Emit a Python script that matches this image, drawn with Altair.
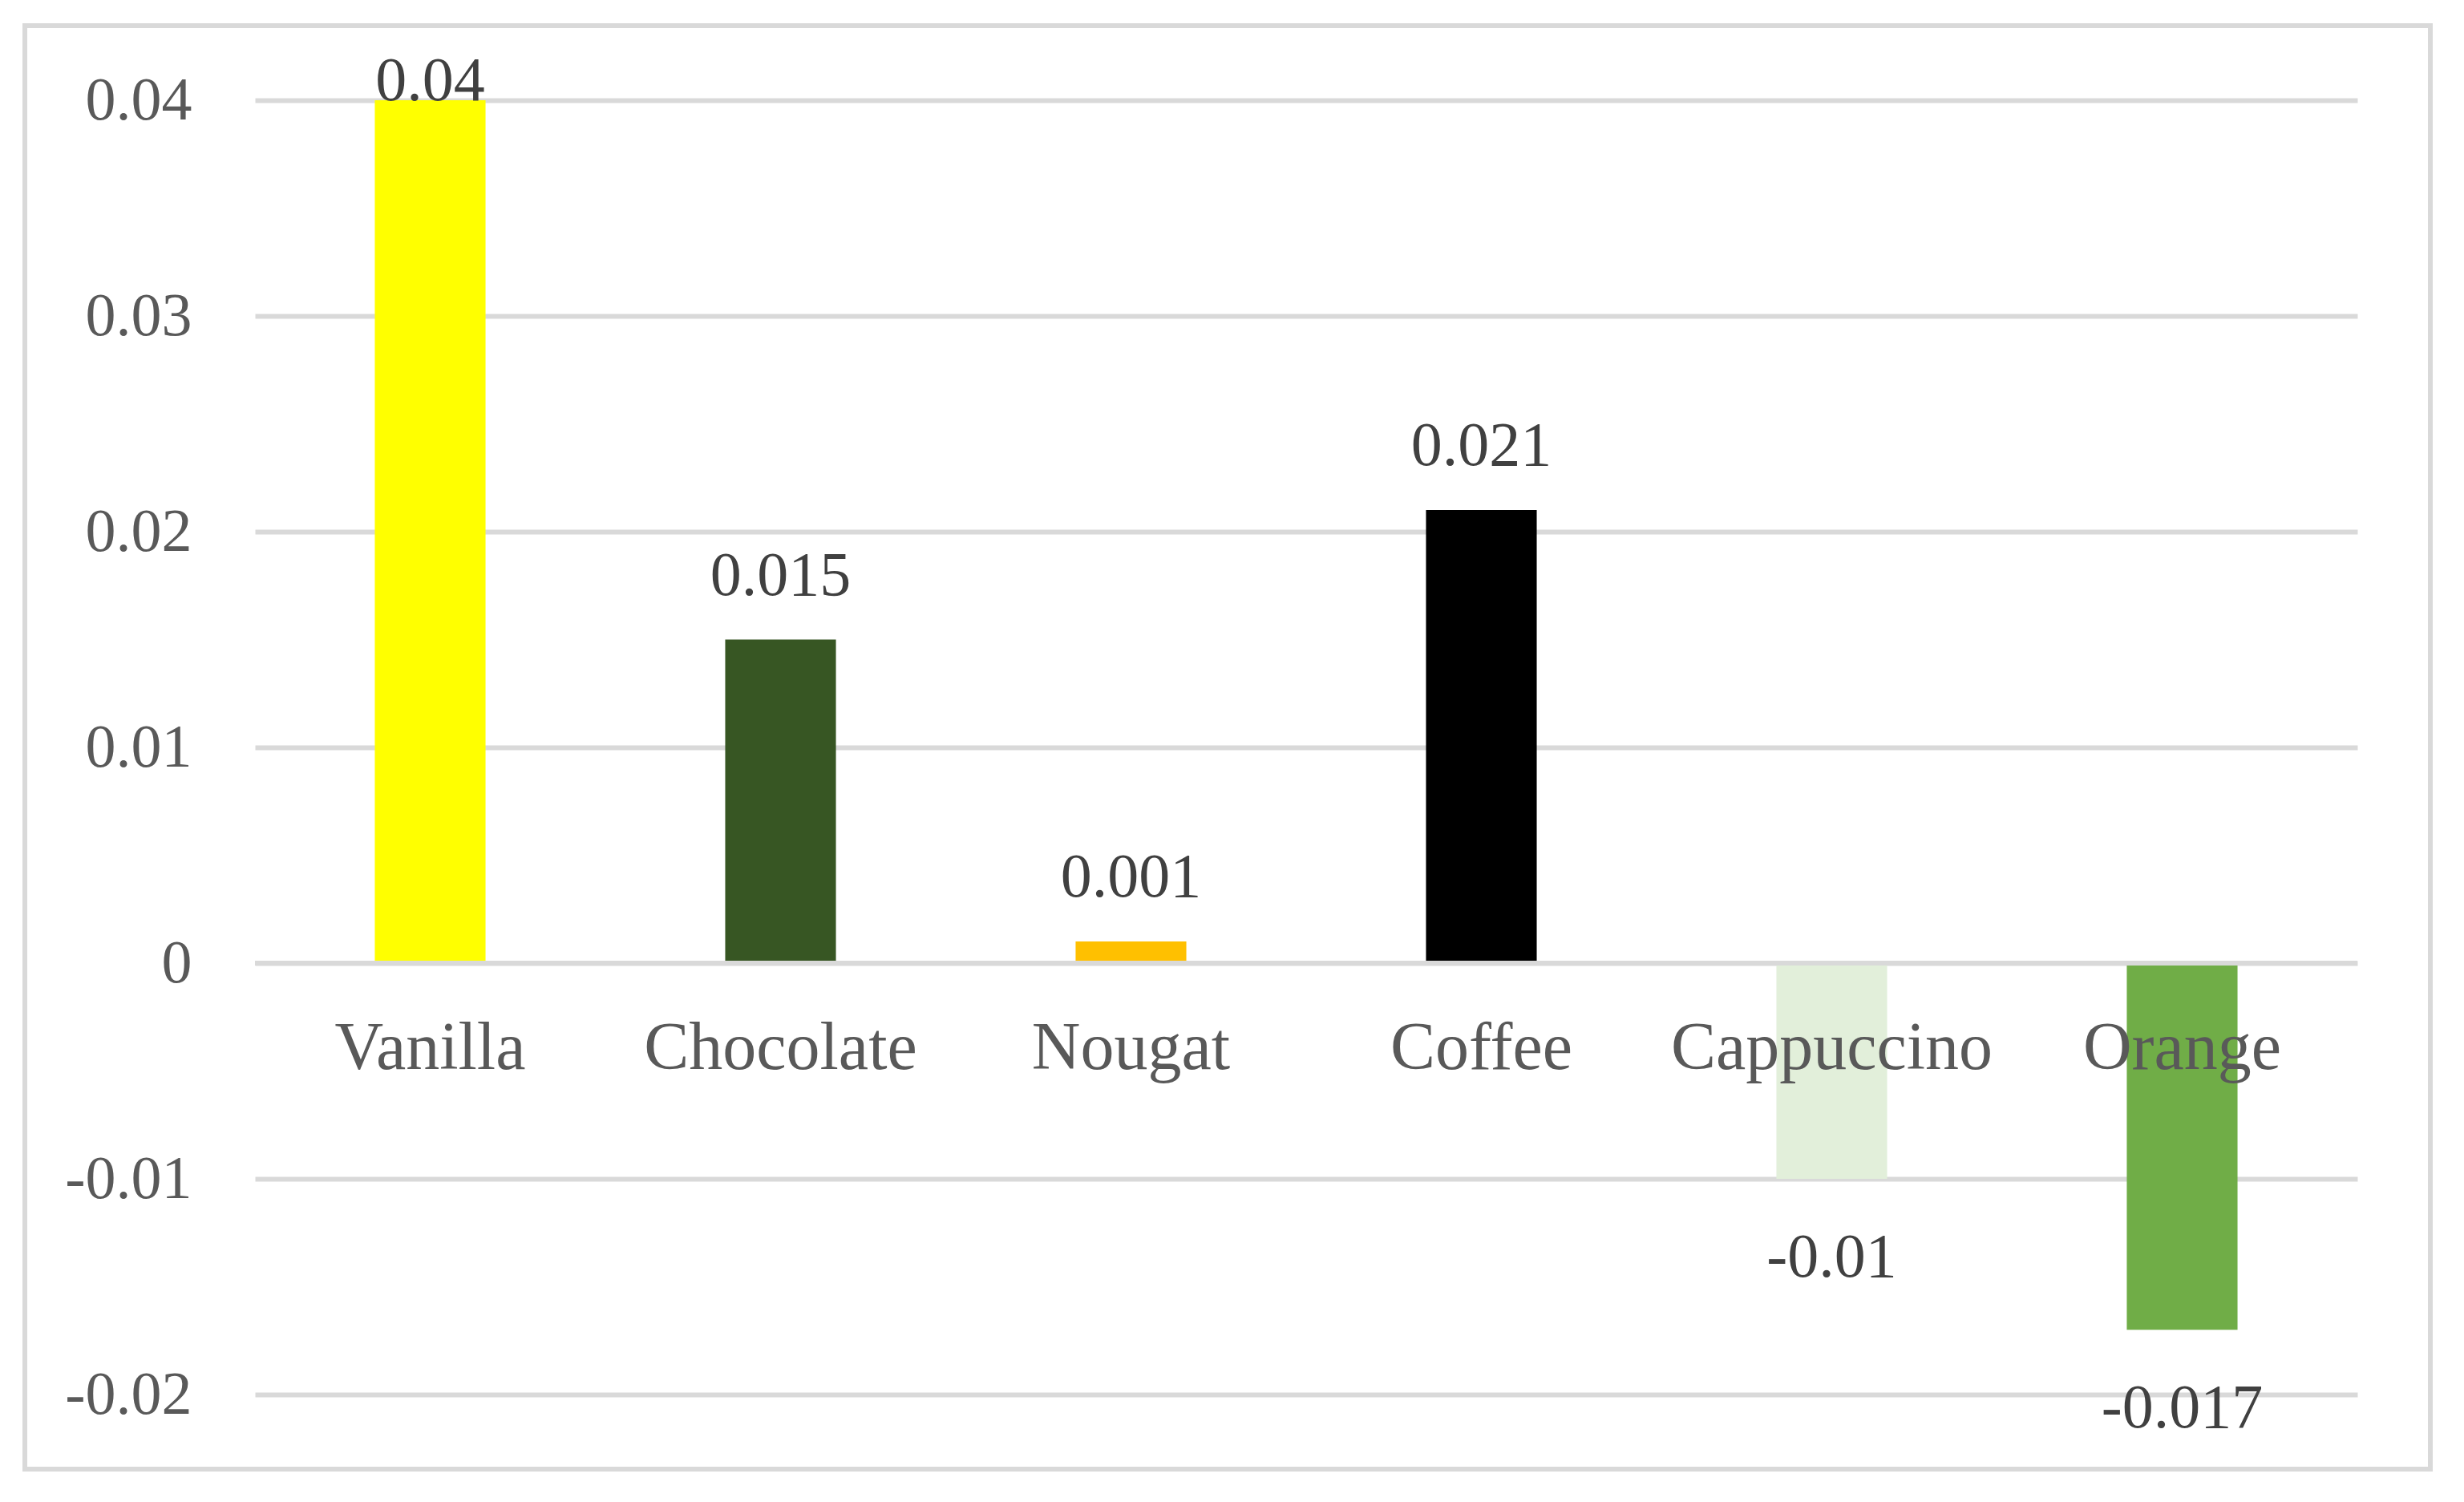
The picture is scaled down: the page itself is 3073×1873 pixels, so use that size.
import altair as alt
import pandas as pd

categories = ["Vanilla", "Chocolate", "Nougat", "Coffee", "Cappuccino", "Orange"]
values = [0.04, 0.015, 0.001, 0.021, -0.01, -0.017]
colors = ["#FFFF00", "#375623", "#FFC000", "#000000", "#E2EFDA", "#70AD47"]
y_ticks = [-0.02, -0.01, 0, 0.01, 0.02, 0.03, 0.04]

df = pd.DataFrame({"cat": categories, "value": values})

FONT = "Liberation Serif"
W, H = 2622, 1614

xenc = alt.X("cat:N", sort=categories,
             scale=alt.Scale(paddingInner=0.684, paddingOuter=0.342),
             axis=None)
yscale = alt.Scale(domain=[-0.02, 0.04], nice=False, zero=True)

base = alt.Chart(df)

border = base.mark_rect(fill=None, stroke="#D9D9D9", strokeWidth=6).encode(
    x=alt.value(-287), x2=alt.value(2713), y=alt.value(-93), y2=alt.value(1707)
).transform_filter("datum.cat == 'Vanilla'")

bars = base.mark_bar().encode(
    x=xenc,
    y=alt.Y("value:Q", scale=yscale,
            axis=alt.Axis(values=y_ticks, title=None, domain=False, ticks=False,
                          tickSize=0, labelPadding=79,
                          labelExpr="'' + datum.value",
                          labelFont=FONT, labelFontSize=76, labelColor="#595959",
                          gridColor="#D9D9D9", gridWidth=6)),
    color=alt.Color("cat:N", scale=alt.Scale(domain=categories, range=colors), legend=None),
)

zero_line = base.mark_rule(color="#D9D9D9", strokeWidth=6).encode(
    y=alt.datum(0, scale=yscale),
    x=alt.value(0), x2=alt.value(W),
).transform_filter("datum.cat == 'Vanilla'")

data_labels = base.transform_calculate(
    lab="'' + datum.value",
    pos="datum.value >= 0 ? min(datum.value + 0.00208, 0.04) : datum.value - 0.00454",
).mark_text(font=FONT, fontSize=78, color="#404040", baseline="alphabetic", align="center").encode(
    x=xenc,
    y=alt.Y("pos:Q", scale=yscale),
    text="lab:N",
)

cat_labels = base.mark_text(font=FONT, fontSize=84, color="#595959", baseline="alphabetic",
                            align="center", dy=132).encode(
    x=xenc,
    y=alt.datum(0, scale=yscale),
    text="cat:N",
)

chart = alt.layer(border, bars, zero_line, data_labels, cat_labels).properties(
    width=W, height=H,
    background="white",
    autosize=alt.AutoSizeParams(type="none"),
    padding={"left": 310, "top": 117, "right": 125, "bottom": 120},
).configure_view(stroke=None)

chart.save("out.html", embed_options={"renderer": "svg", "actions": False})
